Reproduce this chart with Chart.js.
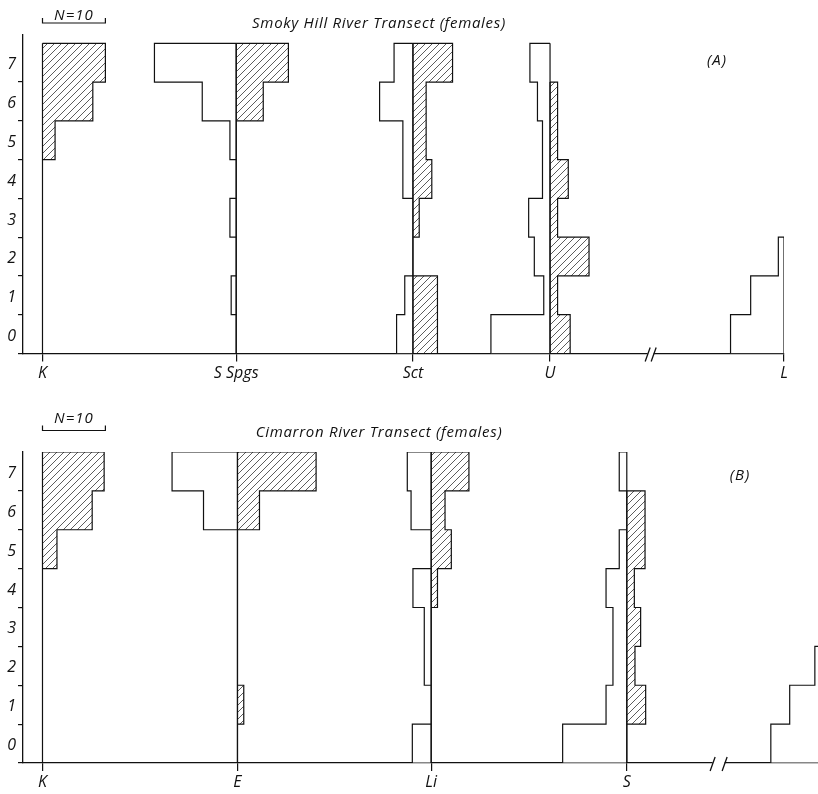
<!DOCTYPE html>
<html><head><meta charset="utf-8">
<script src="https://cdn.jsdelivr.net/npm/chart.js@4.4.1/dist/chart.umd.min.js"></script>
<style>
html,body{margin:0;padding:0;background:#fff;}
#wrap{position:relative;width:818px;height:794px;background:#fff;}
canvas{position:absolute;left:0;}
#cA{top:0;}
#cB{top:390px;}
</style></head><body>
<div id="wrap"><canvas id="cA" width="818" height="390"></canvas><canvas id="cB" width="818" height="404"></canvas></div>
<script>
// ---------- DATA (bins 0..7, counts; N=10 scale) ----------
const binLabels = [0, 1, 2, 3, 4, 5, 6, 7];

// Panel A: Smoky Hill River Transect (females)
const stationsA = ['K', 'S Spgs', 'Sct', 'U', 'L'];
const positionsA = [3.1, 33.9, 62, 83.8, 121];
const A_K_open      = [0, 0, 0, 0, 0, 0, 0, 0];
const A_K_hatch     = [0, 0, 0, 0, 0, 2, 8, 10];
const A_SSpgs_open  = [0, 0.8, 0, 1, 0, 1, 5.4, 13];
const A_SSpgs_hatch = [0, 0, 0, 0, 0, 0, 4.3, 8.3];
const A_Sct_open    = [2.6, 1.3, 0, 0, 1.6, 1.6, 5.3, 3];
const A_Sct_hatch   = [3.9, 3.9, 0, 1, 3, 2.1, 2.1, 6.3];
const A_U_open      = [9.4, 1, 2.5, 3.4, 1.2, 1.2, 2, 3.2];
const A_U_hatch     = [3.2, 1.2, 6.2, 1.2, 2.9, 1.2, 1.2, 0];
const A_L_open      = [8.5, 5.3, 0.9, 0, 0, 0, 0, 0];
const A_L_hatch     = [0, 0, 0, 0, 0, 0, 0, 0];

// Panel B: Cimarron River Transect (females)
const stationsB = ['K', 'E', 'Li', 'S', 'L'];
const positionsB = [3.1, 34.1, 64.9, 96, 127];
const B_K_open      = [0, 0, 0, 0, 0, 0, 0, 0];
const B_K_hatch     = [0, 0, 0, 0, 0, 2.3, 7.9, 9.8];
const B_E_open      = [0, 0, 0, 0, 0, 0, 5.4, 10.4];
const B_E_hatch     = [0, 1, 0, 0, 0, 0, 3.5, 12.5];
const B_Li_open     = [3, 0, 1.1, 1.1, 2.9, 0, 3.2, 3.8];
const B_Li_hatch    = [0, 0, 0, 0, 1, 3.2, 2.2, 6];
const B_S_open      = [10.2, 3.3, 2.2, 2.2, 3.3, 1.2, 0, 1.2];
const B_S_hatch     = [0, 3, 1.3, 2.2, 1.2, 2.9, 2.9, 0];
const B_L_open      = [8.1, 5.1, 1.1, 0, 0, 0, 0, 0];
const B_L_hatch     = [0, 0, 0, 0, 0, 0, 0, 0];

const scaleBarN = 10;
const breakA = 99.8, breakB = 110.6;

// ---------- helpers ----------
function hatchPattern() {
  const c = document.createElement('canvas');
  c.width = 7; c.height = 7;
  const g = c.getContext('2d');
  g.strokeStyle = '#333'; g.lineWidth = 0.8;
  g.beginPath();
  g.moveTo(-1, 8); g.lineTo(8, -1);
  g.moveTo(-1, 1); g.lineTo(1, -1);
  g.moveTo(6, 8); g.lineTo(8, 6);
  g.stroke();
  return g.createPattern(c, 'repeat');
}
const HATCH = hatchPattern();
const FONT = "'Open Sans', 'DejaVu Sans', sans-serif";

function barDataset(pos, vals, side, fill) {
  const data = [];
  vals.forEach((v, i) => {
    if (v > 0) data.push({ y: binLabels[i] + 0.5, x: side < 0 ? [pos - v, pos] : [pos, pos + v] });
  });
  return {
    type: 'bar', indexAxis: 'y', order: 2, data,
    backgroundColor: fill, borderWidth: 0, grouped: false, inflateAmount: 0,
    barPercentage: 1, categoryPercentage: 1
  };
}
function outlineDataset(pos, vals, side) {
  let top = -1;
  vals.forEach((v, i) => { if (v > 0) top = i; });
  const pts = [];
  if (top >= 0) {
    pts.push({ x: pos, y: top + 1 });
    for (let i = top; i >= 0; i--) {
      const x = pos + side * vals[i];
      pts.push({ x: x, y: i + 1 }, { x: x, y: i });
    }
    pts.push({ x: pos, y: 0 }, { x: pos, y: top + 1 });
  }
  return {
    type: 'line', indexAxis: 'x', order: 0, data: pts,
    borderColor: '#111', borderWidth: 1.2, pointRadius: 0, fill: false, tension: 0
  };
}

const decor = {
  id: 'decor',
  afterDraw(chart, args, o) {
    const ctx = chart.ctx, xs = chart.scales.x, base = chart.chartArea.bottom;
    ctx.save();
    ctx.fillStyle = '#111'; ctx.strokeStyle = '#111';
    ctx.textAlign = 'center'; ctx.textBaseline = 'middle';
    // title
    ctx.font = 'italic 15px ' + FONT;
    ctx.letterSpacing = '0.7px';
    ctx.fillText(o.title, o.titleX, o.titleY);
    // N=10 scale bracket
    const x0 = xs.getPixelForValue(o.bracketFrom), x1 = xs.getPixelForValue(o.bracketFrom + scaleBarN);
    ctx.lineWidth = 1.2;
    ctx.beginPath();
    ctx.moveTo(x0, o.bracketY - 5); ctx.lineTo(x0, o.bracketY); ctx.lineTo(x1, o.bracketY); ctx.lineTo(x1, o.bracketY - 5);
    ctx.stroke();
    ctx.font = 'italic 15px ' + FONT;
    ctx.letterSpacing = '1px';
    ctx.fillText('N=' + scaleBarN, (x0 + x1) / 2, o.nY);
    // panel letter
    ctx.font = 'italic 15px ' + FONT;
    ctx.letterSpacing = '1px';
    ctx.fillText(o.letter, o.letterX, o.letterY);
    ctx.letterSpacing = '0px';
    // axis break
    const xb = xs.getPixelForValue(o.breakAt);
    ctx.fillStyle = '#fff';
    ctx.fillRect(xb - o.breakGap / 2, base - 2, o.breakGap, 4);
    ctx.lineWidth = 1.3;
    ctx.beginPath();
    [-o.breakGap / 2, o.breakGap / 2].forEach(d => {
      ctx.moveTo(xb + d - 2.5, base + 8); ctx.lineTo(xb + d + 2.5, base - 6);
    });
    ctx.stroke();
    ctx.restore();
  }
};

function buildChart(id, names, positions, sides, xmax, ymax, padTop, padRight, xAxisH, labelOff, deco) {
  const datasets = [];
  sides.forEach((s, k) => {
    datasets.push(barDataset(positions[k], s[0], -1, '#fff'));
    datasets.push(barDataset(positions[k], s[1], 1, HATCH));
  });
  sides.forEach((s, k) => {
    datasets.push(outlineDataset(positions[k], s[0], -1));
    datasets.push(outlineDataset(positions[k], s[1], 1));
  });
  const visible = positions.map((p, i) => i).filter(i => positions[i] <= xmax);
  return new Chart(document.getElementById(id), {
    type: 'bar',
    data: { datasets },
    plugins: [decor],
    options: {
      responsive: false, animation: false, devicePixelRatio: 1, events: [],
      layout: { padding: { top: padTop, right: padRight, left: 0, bottom: 0 } },
      plugins: { legend: { display: false }, tooltip: { enabled: false }, decor: deco },
      scales: {
        x: {
          type: 'linear', min: 0, max: xmax, offset: false,
          afterBuildTicks: sc => { sc.ticks = visible.map(i => ({ value: positions[i] })); },
          afterFit: sc => { sc.height = xAxisH; },
          ticks: {
            autoSkip: false, maxRotation: 0, minRotation: 0, padding: 2, color: '#111',
            font: { family: FONT, style: 'italic', size: 16 },
            callback: (v, i) => names[visible[i]]
          },
          grid: { offset: false, drawOnChartArea: false, drawTicks: true, tickLength: 8, color: '#111', lineWidth: 1.2 },
          border: { display: true, color: '#111', width: 1.3 }
        },
        y: {
          type: 'linear', min: 0, max: ymax, offset: false,
          afterBuildTicks: sc => { sc.ticks = binLabels.map(v => ({ value: v })); },
          afterFit: sc => { sc.width = 23; },
          ticks: {
            autoSkip: false, padding: 2, color: '#111', labelOffset: labelOff,
            font: { family: FONT, style: 'italic', size: 16 },
            callback: v => String(v)
          },
          grid: { offset: false, drawOnChartArea: false, drawTicks: true, tickLength: 5, color: '#111', lineWidth: 1.2 },
          border: { display: true, color: '#111', width: 1.3 }
        }
      }
    }
  });
}

buildChart('cA', stationsA, positionsA,
  [[A_K_open, A_K_hatch], [A_SSpgs_open, A_SSpgs_hatch], [A_Sct_open, A_Sct_hatch], [A_U_open, A_U_hatch], [A_L_open, A_L_hatch]],
  121, 8.214, 35, 34, 36.5, -17.2,
  { title: 'Smoky Hill River Transect (females)', titleX: 379, titleY: 24,
    bracketFrom: positionsA[0], bracketY: 23, nY: 16, letter: '(A)', letterX: 717, letterY: 61,
    breakAt: breakA, breakGap: 6 });

buildChart('cB', stationsB, positionsB,
  [[B_K_open, B_K_hatch], [B_E_open, B_E_hatch], [B_Li_open, B_Li_hatch], [B_S_open, B_S_hatch], [B_L_open, B_L_hatch]],
  126.4, 8, 62, 0, 31, -17.5,
  { title: 'Cimarron River Transect (females)', titleX: 379, titleY: 43,
    bracketFrom: positionsB[0], bracketY: 40.5, nY: 29, letter: '(B)', letterX: 740, letterY: 86,
    breakAt: breakB, breakGap: 12 });
</script>
</body></html>
